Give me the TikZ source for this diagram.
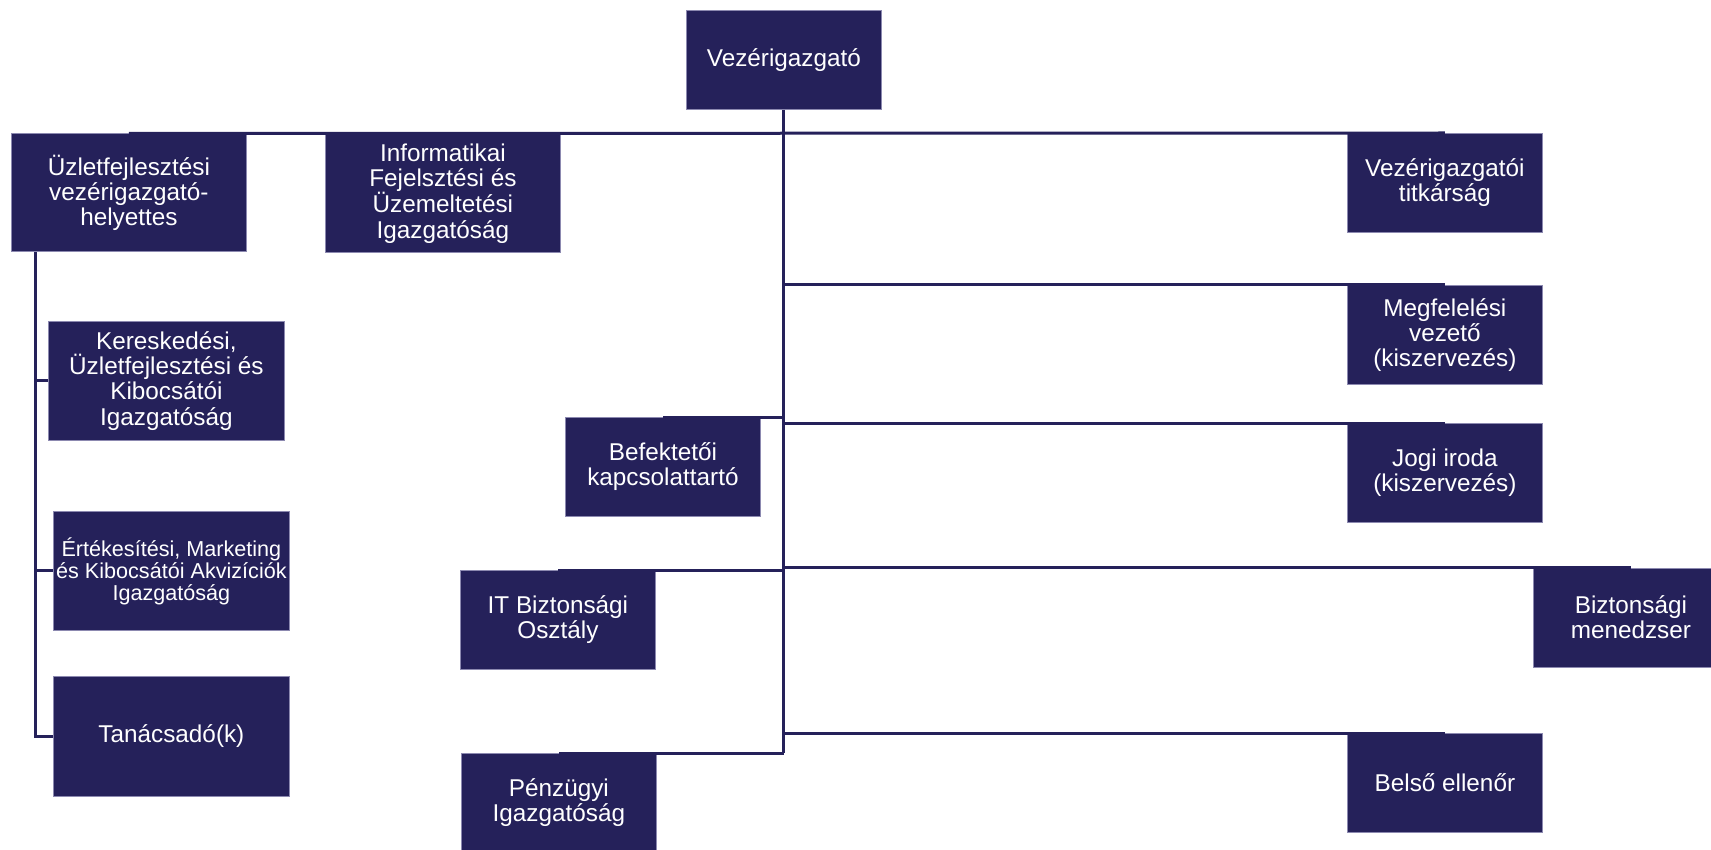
\documentclass[tikz,border=0pt]{standalone}
\usepackage{fontspec}
\setmainfont{Liberation Sans}
\definecolor{navy}{HTML}{25215A}
\definecolor{edgecol}{HTML}{8C89B0}
\tikzset{
  box/.style={draw=edgecol, line width=0.8pt, fill=navy, text=white, anchor=north west,
    inner sep=0pt, align=center, font=\fontsize{24.3}{25.2}\selectfont},
  bigbox/.style={box, minimum width=235pt, minimum height=118pt},
  smallbox/.style={box, minimum width=195pt, minimum height=99pt},
  link/.style={draw=navy, line width=3pt}
}
\begin{document}
\begin{tikzpicture}[x=1pt,y=-1pt]
\useasboundingbox (0,0) rectangle (1711,850);
% nodes
\node[smallbox] (ceo) at (686,10) {Vezérigazgató};
\node[bigbox] (uzl) at (11,133.5) {Üzletfejlesztési\\vezérigazgató-\\helyettes};
\node[bigbox] (inf) at (325,134) {Informatikai\\Fejelsztési és\\Üzemeltetési\\Igazgatóság};
\node[smallbox] (tit) at (1347,133) {Vezérigazgatói\\titkárság};
\node[smallbox] (meg) at (1347,285) {Megfelelési\\vezető\\(kiszervezés)};
\node[smallbox] (bef) at (565,417) {Befektetői\\kapcsolattartó};
\node[smallbox] (jog) at (1347,423) {Jogi iroda\\(kiszervezés)};
\node[smallbox] (itb) at (460,570) {IT Biztonsági\\Osztály};
\node[smallbox] (biz) at (1533,567.5) {Biztonsági\\menedzser};
\node[smallbox] (bel) at (1347,733) {Belső ellenőr};
\node[smallbox] (pen) at (461,753) {Pénzügyi\\Igazgatóság};
\node[box, minimum width=236pt, minimum height=119pt] (ker) at (48,321) {Kereskedési,\\Üzletfejlesztési és\\Kibocsátói\\Igazgatóság};
\node[box, minimum width=236pt, minimum height=119pt, font=\fontsize{21.6}{22}\selectfont] (ert) at (53,511) {Értékesítési, Marketing\\és Kibocsátói Akvizíciók\\Igazgatóság};
\node[box, minimum width=236pt, minimum height=120pt] (tan) at (53,676) {Tanácsadó(k)};
% connectors
\draw[link] (ceo.south) -- (ceo.south |- pen.north);
\draw[link] (uzl.north) -- (tit.north);
\draw[link] (ceo.south |- meg.north) -- (meg.north);
\draw[link] (ceo.south |- bef.north) -- (bef.north);
\draw[link] (ceo.south |- jog.north) -- (jog.north);
\draw[link] (ceo.south |- itb.north) -- (itb.north);
\draw[link] (ceo.south |- biz.north) -- (biz.north);
\draw[link] (ceo.south |- bel.north) -- (bel.north);
\draw[link] (ceo.south |- pen.north) -- (pen.north);
\coordinate (lv) at ([xshift=24pt]uzl.south west);
\draw[link] (lv) -- (lv |- tan.west) -- (tan.west);
\draw[link] (lv |- ker.west) -- (ker.west);
\draw[link] (lv |- ert.west) -- (ert.west);
\end{tikzpicture}
\end{document}
